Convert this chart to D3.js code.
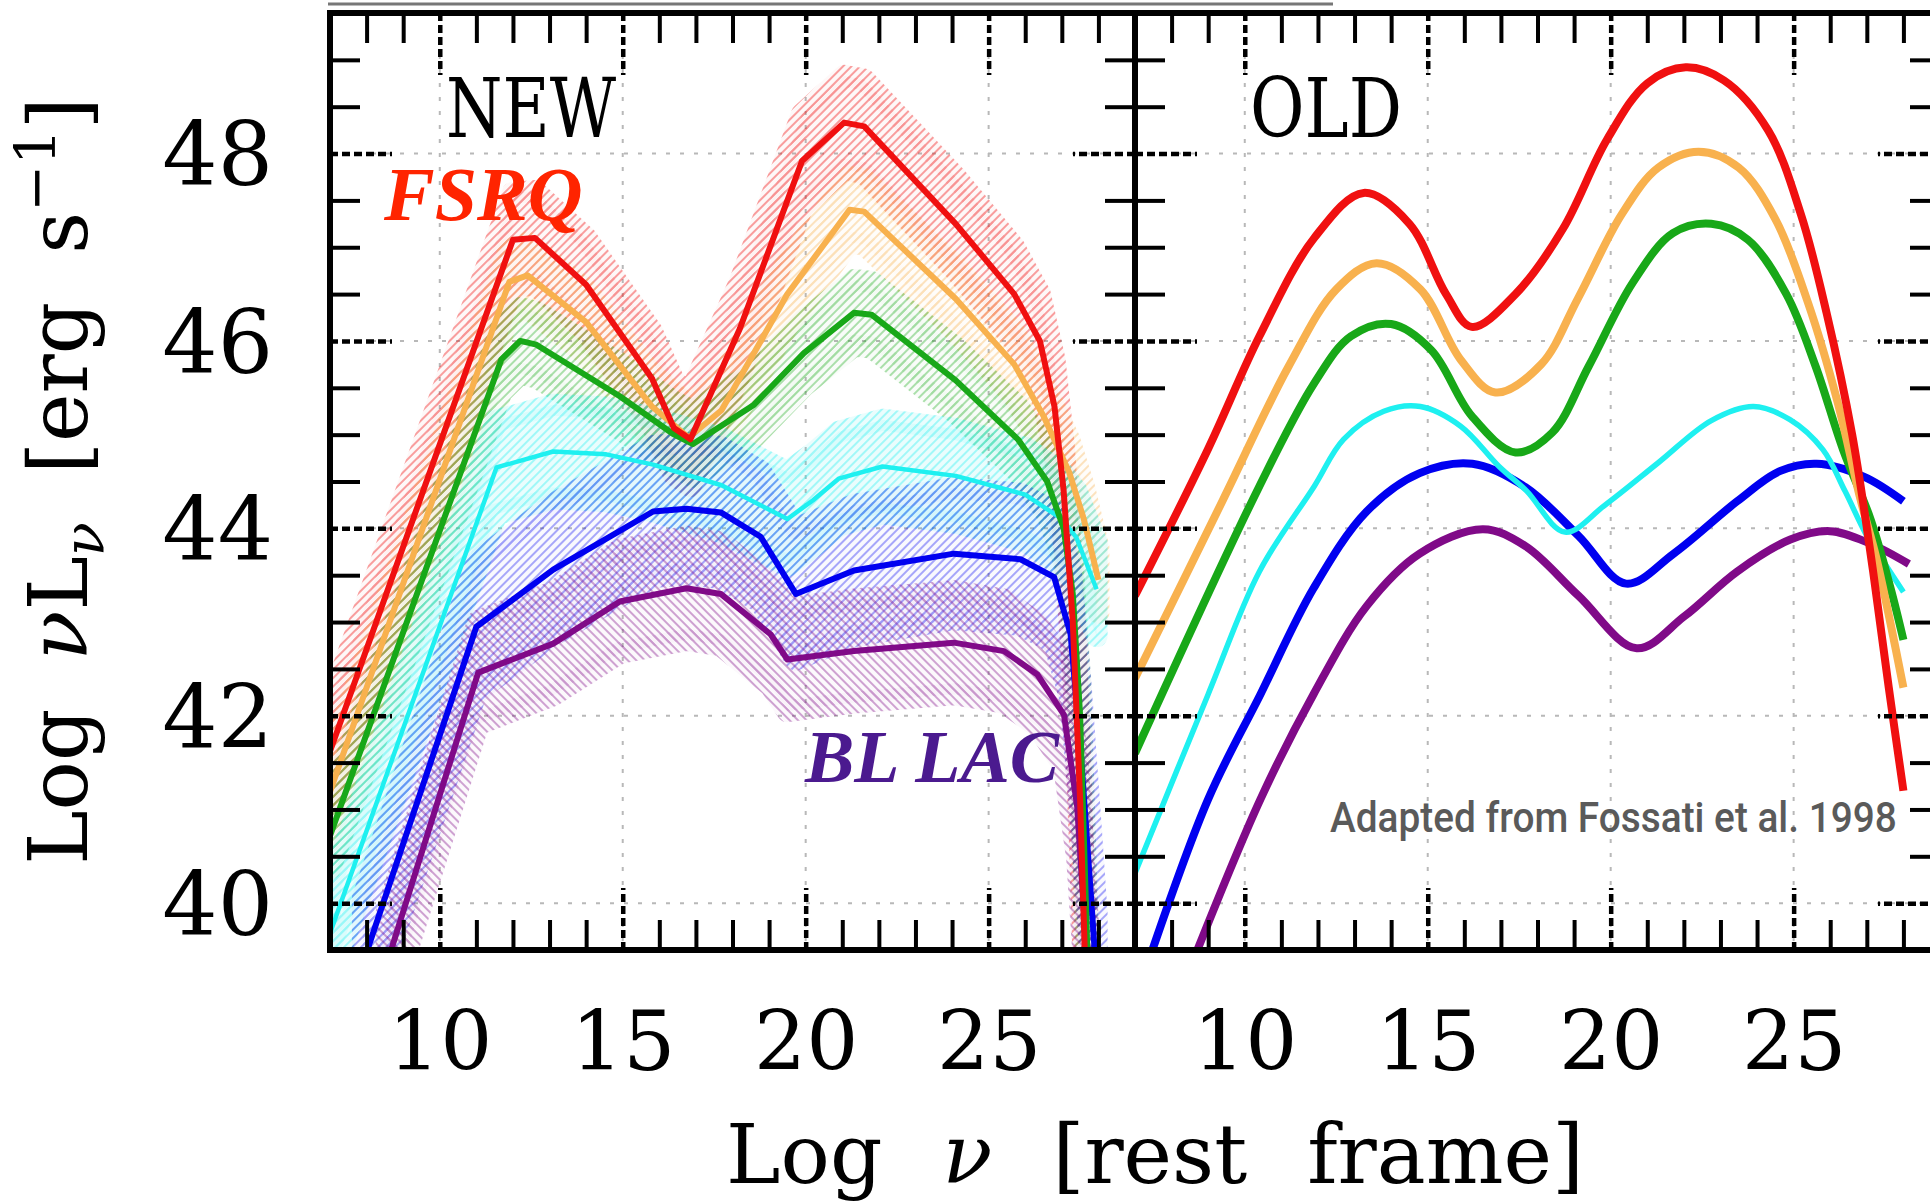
<!DOCTYPE html>
<html>
<head>
<meta charset="utf-8">
<script src="https://cdn.jsdelivr.net/npm/d3@7"></script>
<style>
  body { margin: 0; background: #fff; }
  svg { display: block; }
</style>
</head>
<body>
<svg id="chart" width="1930" height="1203"></svg>
<script>
// ---- data (x = Log nu, y = Log nuL_nu) ----
const seriesNames = ["red", "orange", "green", "cyan", "blue", "purple"];
const seriesColors = ["#f01010", "#f8b14e", "#18a818", "#1ef0f0", "#0000f0", "#800a88"];

// NEW panel (broken-line SEDs with hatched bands)
const newRedX = [7.0, 12.0, 12.6, 14.0, 15.8, 16.4, 16.85, 18.2, 19.9, 21.05, 21.6, 24.1, 25.7, 26.4, 26.8, 27.05, 27.3, 27.5, 27.65];
const newRedY = [41.62, 47.08, 47.1, 46.6, 45.6, 45.07, 44.95, 46.13, 47.92, 48.33, 48.29, 47.25, 46.5, 46.0, 45.3, 44.4, 43.0, 41.1, 39.2];
const newOrangeX = [7.0, 11.9, 12.4, 14.0, 15.8, 16.8, 17.7, 19.5, 21.2, 21.6, 24.1, 25.7, 26.5, 27.2, 27.6, 28.0];
const newOrangeY = [41.19, 46.63, 46.7, 46.2, 45.3, 44.97, 45.26, 46.5, 47.4, 47.38, 46.45, 45.75, 45.2, 44.6, 44.1, 43.45];
const newGreenX = [7.0, 11.68, 12.2, 12.64, 14.92, 16.37, 16.92, 18.59, 19.95, 21.32, 21.8, 24.1, 25.8, 26.6, 27.05, 27.3, 27.5, 27.72];
const newGreenY = [40.72, 45.8, 46.0, 45.96, 45.41, 45.01, 44.9, 45.32, 45.87, 46.3, 46.28, 45.58, 44.95, 44.5, 44.0, 43.3, 42.0, 39.2];
const newCyanX = [7.0, 11.55, 13.1, 14.55, 15.83, 17.7, 19.5, 20.2, 20.9, 22.1, 24.1, 26.0, 27.0, 27.4, 27.95];
const newCyanY = [39.68, 44.65, 44.82, 44.79, 44.68, 44.46, 44.1, 44.3, 44.53, 44.66, 44.56, 44.36, 44.1, 43.9, 43.35];
const newBlueX = [7.9, 11.0, 13.1, 15.83, 16.74, 17.68, 18.77, 19.73, 21.32, 24.05, 25.87, 26.79, 27.24, 27.51, 27.79, 27.95];
const newBlueY = [39.36, 42.95, 43.56, 44.18, 44.21, 44.17, 43.91, 43.3, 43.55, 43.73, 43.67, 43.48, 42.87, 41.65, 40.11, 39.2];
const newPurpleX = [8.55, 11.05, 13.1, 14.92, 16.74, 17.68, 19.04, 19.5, 21.32, 24.05, 25.42, 26.33, 27.06, 27.42, 27.72];
const newPurpleY = [39.35, 42.46, 42.77, 43.22, 43.36, 43.3, 42.87, 42.6, 42.69, 42.78, 42.69, 42.44, 42.01, 41.03, 39.2];
const newBandHalf = [0.5, 0.35, 0.35, 0.5, 0.7, 0.55];

// OLD panel (smooth curves)
const oldRedX = [7.0, 9.0, 10.4, 11.9, 13.25, 14.5, 15.5, 16.2, 17.4, 18.7, 19.9, 21.0, 22.05, 23.1, 24.3, 25.2, 25.9, 26.6, 27.15, 27.6, 28.0];
const oldRedY = [43.28, 44.85, 46.05, 47.1, 47.58, 47.25, 46.5, 46.15, 46.5, 47.2, 48.15, 48.75, 48.92, 48.78, 48.25, 47.35, 46.3, 45.0, 43.6, 42.3, 41.2];
const oldOrangeX = [7.0, 9.4, 11.2, 12.5, 13.6, 14.8, 15.9, 16.85, 18.1, 19.1, 20.3, 21.3, 22.4, 23.5, 24.5, 25.4, 26.2, 26.8, 27.25, 27.65, 28.0];
const oldOrangeY = [42.4, 44.3, 45.73, 46.55, 46.83, 46.55, 45.8, 45.45, 45.75, 46.45, 47.35, 47.85, 48.02, 47.85, 47.3, 46.4, 45.35, 44.35, 43.7, 42.98, 42.3];
const oldGreenX = [7.0, 10.4, 11.9, 12.9, 14.0, 15.1, 16.2, 17.4, 18.4, 19.4, 20.6, 21.7, 22.75, 23.75, 24.8, 25.6, 26.35, 27.1, 27.65, 28.0];
const oldGreenY = [41.6, 44.45, 45.55, 46.05, 46.18, 45.9, 45.2, 44.81, 45.02, 45.73, 46.62, 47.15, 47.25, 47.08, 46.5, 45.73, 44.84, 44.1, 43.36, 42.81];
const oldCyanX = [7.0, 9.0, 10.4, 11.9, 12.7, 13.8, 14.8, 15.9, 16.95, 17.7, 18.75, 19.85, 21.3, 22.75, 23.9, 24.9, 25.8, 26.4, 27.0, 27.5, 28.0];
const oldCyanY = [40.32, 42.23, 43.54, 44.45, 44.95, 45.25, 45.3, 45.09, 44.66, 44.4, 43.96, 44.25, 44.7, 45.15, 45.3, 45.16, 44.84, 44.4, 43.92, 43.62, 43.32];
const oldBlueX = [7.3, 9.0, 10.43, 11.88, 13.33, 14.78, 16.22, 17.67, 19.12, 20.42, 21.72, 23.46, 24.62, 25.63, 26.93, 28.0];
const oldBlueY = [39.3, 41.11, 42.23, 43.36, 44.18, 44.59, 44.69, 44.44, 43.92, 43.41, 43.73, 44.29, 44.61, 44.69, 44.55, 44.29];
const oldPurpleX = [8.5, 10.43, 11.88, 13.33, 14.78, 16.51, 17.67, 19.12, 20.71, 22.01, 23.46, 24.91, 25.99, 27.08, 28.15];
const oldPurpleY = [39.3, 41.11, 42.23, 43.17, 43.73, 43.99, 43.81, 43.28, 42.72, 43.06, 43.54, 43.88, 43.97, 43.84, 43.62];

// axes
const xMajorTicks = [10, 15, 20, 25];
const yMajorTicks = [40, 42, 44, 46, 48];
const panelTitles = ["NEW", "OLD"];

// ---- layout ----
const plotTop = 13, plotBottom = 950;
const serif = "'DejaVu Serif', serif";
const panels = [
  { x0: 330, x1: 1135, title: panelTitles[0], titleX: 446, titleLen: 170 },
  { x0: 1135, x1: 1940, title: panelTitles[1], titleX: 1250, titleLen: 152 },
];

const svg = d3.select("#chart");
svg.append("rect").attr("width", 1930).attr("height", 1203).attr("fill", "#fff");

const yScale = d3.scaleLinear().domain([39.5, 49.5]).range([plotBottom, plotTop]);

// hatch patterns for the bands
const defs = svg.append("defs");
seriesNames.forEach(function (name, i) {
  let p = defs.append("pattern")
    .attr("id", "hatch-" + name)
    .attr("patternUnits", "userSpaceOnUse")
    .attr("width", 6).attr("height", 6)
    .attr("patternTransform", name == "purple" ? "rotate(-45)" : "rotate(45)");
  p.append("rect").attr("width", 6).attr("height", 6)
    .attr("fill", seriesColors[i]).attr("opacity", name == "cyan" ? 0.2 : 0.06);
  p.append("line").attr("x1", 1).attr("y1", 0).attr("x2", 1).attr("y2", 6)
    .attr("stroke", seriesColors[i]).attr("stroke-width", 1.8);
});

// top border line cut from the original figure
svg.append("line").attr("x1", 328).attr("x2", 1333).attr("y1", 4).attr("y2", 4)
  .attr("stroke", "#777").attr("stroke-width", 3);

function zip(xs, ys) {
  return xs.map((x, i) => ({ x: x, y: ys[i] }));
}

const newSeries = [
  zip(newRedX, newRedY), zip(newOrangeX, newOrangeY), zip(newGreenX, newGreenY),
  zip(newCyanX, newCyanY), zip(newBlueX, newBlueY), zip(newPurpleX, newPurpleY),
];
const oldSeries = [
  zip(oldRedX, oldRedY), zip(oldOrangeX, oldOrangeY), zip(oldGreenX, oldGreenY),
  zip(oldCyanX, oldCyanY), zip(oldBlueX, oldBlueY), zip(oldPurpleX, oldPurpleY),
];
const bandOpacity = [0.45, 0.4, 0.4, 0.45, 0.38, 0.42];

panels.forEach(function (panel, pi) {
  let xScale = d3.scaleLinear().domain([7, 29]).range([panel.x0, panel.x1]);
  let g = svg.append("g");

  let clipId = "clip" + pi;
  defs.append("clipPath").attr("id", clipId).append("rect")
    .attr("x", panel.x0).attr("y", plotTop)
    .attr("width", panel.x1 - panel.x0).attr("height", plotBottom - plotTop);

  // dotted grid
  g.selectAll(".gx").data(xMajorTicks).enter().append("line")
    .attr("x1", (d) => xScale(d)).attr("x2", (d) => xScale(d))
    .attr("y1", plotTop).attr("y2", plotBottom)
    .attr("stroke", "#b8b8b8").attr("stroke-width", 2).attr("stroke-dasharray", "4,10");
  g.selectAll(".gy").data(yMajorTicks).enter().append("line")
    .attr("x1", panel.x0).attr("x2", panel.x1)
    .attr("y1", (d) => yScale(d)).attr("y2", (d) => yScale(d))
    .attr("stroke", "#b8b8b8").attr("stroke-width", 2).attr("stroke-dasharray", "4,10");

  let plot = g.append("g").attr("clip-path", "url(#" + clipId + ")");

  if (pi == 0) {
    // hatched bands
    newSeries.forEach(function (data, i) {
      let s = newBandHalf[i];
      let area = d3.area()
        .x((d) => xScale(d.x))
        .y0((d) => yScale(d.y - s))
        .y1((d) => yScale(d.y + s));
      plot.append("path")
        .attr("d", area(data))
        .attr("fill", "url(#hatch-" + seriesNames[i] + ")")
        .attr("stroke", "url(#hatch-" + seriesNames[i] + ")")
        .attr("stroke-width", 22)
        .attr("stroke-linejoin", "round")
        .attr("opacity", bandOpacity[i]);
    });
    let line = d3.line().x((d) => xScale(d.x)).y((d) => yScale(d.y));
    [5, 4, 3, 2, 1, 0].forEach(function (i) {
      plot.append("path")
        .attr("d", line(newSeries[i]))
        .attr("fill", "none")
        .attr("stroke", seriesColors[i])
        .attr("stroke-width", i == 3 ? 4.5 : 6)
        .attr("stroke-linejoin", "round");
    });
  } else {
    let line = d3.line().curve(d3.curveCatmullRom.alpha(0.5))
      .x((d) => xScale(d.x)).y((d) => yScale(d.y));
    [5, 4, 3, 2, 1, 0].forEach(function (i) {
      plot.append("path")
        .attr("d", line(oldSeries[i]))
        .attr("fill", "none")
        .attr("stroke", seriesColors[i])
        .attr("stroke-width", i == 3 ? 5.5 : 8)
        .attr("stroke-linecap", "butt");
    });
  }

  // ticks on all four sides, pointing inward
  let xMinor = d3.range(8, 29).filter((d) => xMajorTicks.indexOf(d) < 0);
  let yMinor = d3.range(40, 49.6, 0.5).filter((d) => yMajorTicks.indexOf(d) < 0);

  function tickAxes(axisFn, scale, minor, major, transform) {
    g.append("g").attr("transform", transform)
      .call(axisFn(scale).tickValues(minor).tickSize(30).tickFormat(""))
      .call((a) => a.select(".domain").remove())
      .selectAll("line").attr("stroke", "#000").attr("stroke-width", 4);
    g.append("g").attr("transform", transform)
      .call(axisFn(scale).tickValues(major).tickSize(62).tickFormat(""))
      .call((a) => a.select(".domain").remove())
      .selectAll("line").attr("stroke", "#000").attr("stroke-width", 4.5)
      .attr("stroke-dasharray", "8,4");
  }
  tickAxes(d3.axisTop, xScale, xMinor, xMajorTicks, "translate(0," + plotBottom + ")");
  tickAxes(d3.axisBottom, xScale, xMinor, xMajorTicks, "translate(0," + plotTop + ")");
  tickAxes(d3.axisRight, yScale, yMinor, yMajorTicks, "translate(" + panel.x0 + ",0)");
  tickAxes(d3.axisLeft, yScale, yMinor, yMajorTicks, "translate(" + panel.x1 + ",0)");

  // frame
  g.append("rect")
    .attr("x", panel.x0).attr("y", plotTop)
    .attr("width", panel.x1 - panel.x0).attr("height", plotBottom - plotTop)
    .attr("fill", "none").attr("stroke", "#000").attr("stroke-width", 6);

  // x tick labels
  g.append("g").attr("transform", "translate(0," + plotBottom + ")")
    .call(d3.axisBottom(xScale).tickValues(xMajorTicks).tickSize(0).tickPadding(62))
    .call((a) => a.select(".domain").remove())
    .selectAll("text")
    .style("font-family", serif).attr("font-size", 82).attr("fill", "#000");

  // panel title
  g.append("text")
    .attr("x", panel.titleX).attr("y", 137)
    .style("font-family", serif).attr("font-size", 82)
    .attr("textLength", panel.titleLen).attr("lengthAdjust", "spacingAndGlyphs")
    .text(panel.title);
});

// y tick labels
svg.append("g").attr("transform", "translate(330,0)")
  .call(d3.axisLeft(yScale).tickValues(yMajorTicks).tickSize(0).tickPadding(57))
  .call((a) => a.select(".domain").remove())
  .selectAll("text")
  .style("font-family", serif).attr("font-size", 87).attr("fill", "#000")
  .attr("dy", "0.36em");

// axis titles
let xt = svg.append("text")
  .attr("x", 1155).attr("y", 1183)
  .attr("text-anchor", "middle").style("font-family", serif).attr("font-size", 82)
  .attr("word-spacing", 34);
xt.append("tspan").text("Log ");
xt.append("tspan").attr("font-style", "italic").text("ν");
xt.append("tspan").text(" [rest frame]");

let yt = svg.append("text")
  .attr("transform", "translate(87,481) rotate(-90)")
  .attr("text-anchor", "middle").style("font-family", serif).attr("font-size", 82)
  .attr("word-spacing", 22);
yt.append("tspan").text("Log ");
yt.append("tspan").attr("font-style", "italic").text("ν");
yt.append("tspan").text("L");
yt.append("tspan").attr("font-style", "italic").attr("font-size", 56).attr("dy", 16).text("ν");
yt.append("tspan").attr("dy", -16).text(" [erg s");
yt.append("tspan").attr("font-size", 56).attr("dy", -32).text("−1");
yt.append("tspan").attr("dy", 32).text("]");

// annotations
svg.append("text")
  .attr("x", 384).attr("y", 220)
  .style("font-family", "'Liberation Serif', serif").attr("font-weight", "bold").attr("font-style", "italic")
  .attr("font-size", 76).attr("fill", "#ff2400")
  .text("FSRQ");

svg.append("text")
  .attr("x", 805).attr("y", 782)
  .style("font-family", "'Liberation Serif', serif").attr("font-weight", "bold").attr("font-style", "italic")
  .attr("font-size", 74).attr("fill", "#4b1a8f")
  .text("BL LAC");

// credit line, squeezed horizontally to the width of the condensed original
let credit = svg.append("text")
  .attr("x", 0).attr("y", 0)
  .style("font-family", "Roboto, sans-serif").attr("font-weight", 500)
  .attr("font-size", 42).attr("fill", "#5a5a5a")
  .text("Adapted from Fossati et al. 1998");
let creditWidth = credit.node().getComputedTextLength();
credit.attr("transform", "translate(1330,832) scale(" + (567 / creditWidth) + ",1)");
</script>
</body>
</html>
